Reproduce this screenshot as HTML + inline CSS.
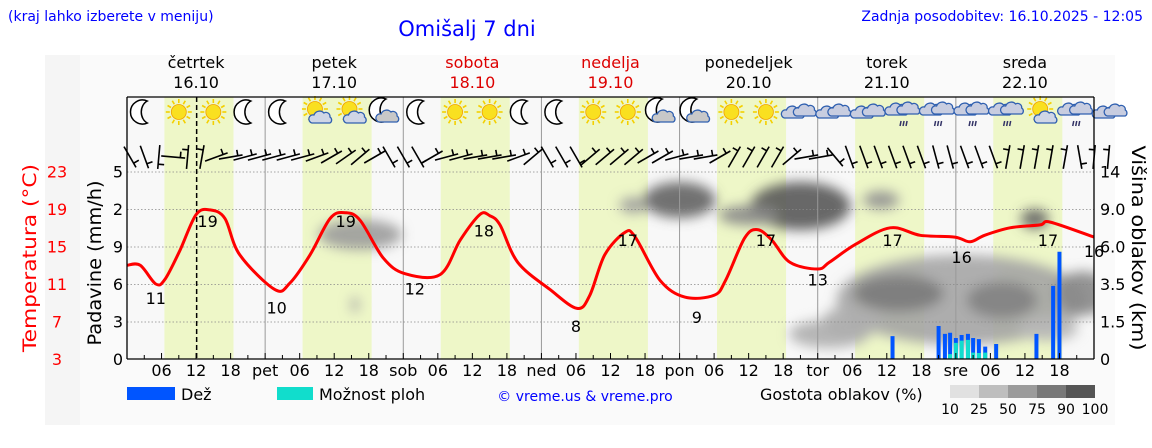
<!DOCTYPE html>
<html><head><meta charset="utf-8"><style>
body{margin:0;background:#fff;width:1152px;height:443px;overflow:hidden;font-family:"Liberation Sans","DejaVu Sans",sans-serif}
svg text{font-family:"DejaVu Sans","Liberation Sans",sans-serif}
</style></head><body>
<svg id="c" width="1152" height="443" viewBox="0 0 1152 443">
<defs><filter id="bl" x="-50%" y="-50%" width="200%" height="200%"><feGaussianBlur stdDeviation="6"/></filter>
<clipPath id="pc"><rect x="127" y="97" width="967" height="262"/></clipPath></defs>
<rect x="45" y="55" width="35" height="370" fill="#f5f5f5"/>
<rect x="80" y="55" width="1035" height="370" fill="#fafafa"/>
<rect x="127" y="97" width="967" height="262" fill="#f8f8f8"/>
<g id="bands"></g><g clip-path="url(#pc)"><g id="clouds" filter="url(#bl)"></g></g><g id="grid"></g><g id="bars"></g><g id="icons"></g><g id="wind"></g><g id="temp"></g><g id="axes"></g>
<text x="8" y="21" font-size="14" fill="#0000ff">(kraj lahko izberete v meniju)</text>
<text x="467" y="36" font-size="21" fill="#0000ff" text-anchor="middle">Omišalj 7 dni</text>
<text x="1143" y="21" font-size="14" fill="#0000ff" text-anchor="end">Zadnja posodobitev: 16.10.2025 - 12:05</text>
<text transform="translate(36,258) rotate(-90)" font-size="19" fill="#ff0000" text-anchor="middle" textLength="188" lengthAdjust="spacingAndGlyphs">Temperatura (°C)</text>
<text transform="translate(101,263) rotate(-90)" font-size="19" fill="#000" text-anchor="middle" textLength="165" lengthAdjust="spacingAndGlyphs">Padavine (mm/h)</text>
<text transform="translate(1132,248) rotate(90)" font-size="19" fill="#000" text-anchor="middle" textLength="205" lengthAdjust="spacingAndGlyphs">Višina oblakov (km)</text>
<g>
<rect x="127" y="387" width="48" height="13" fill="#0055ff"/>
<text x="181" y="400" font-size="16">Dež</text>
<rect x="277" y="387" width="36" height="13" fill="#11ddcc"/>
<text x="319" y="400" font-size="16">Možnost ploh</text>
<text x="585" y="401" font-size="14" fill="#0000ff" text-anchor="middle">© vreme.us &amp; vreme.pro</text>
<text x="760" y="400" font-size="16">Gostota oblakov (%)</text>
<g id="cscale"></g>
</g>
</svg>
<script>
const NS='http://www.w3.org/2000/svg';
const X0=127,X1=1094,YB=359,PXH=(X1-X0)/168;
const dayNames=['četrtek','petek','sobota','nedelja','ponedeljek','torek','sreda'];
const dayDates=['16.10','17.10','18.10','19.10','20.10','21.10','22.10'];
const dayColors=['#000','#000','#d00','#d00','#000','#000','#000'];
const dayAbbr=['','pet','sob','ned','pon','tor','sre'];
const tempHours=[0,2.3,5,6.6,9.2,12,14.4,17,19.6,25.7,28.3,31.8,35.3,37.9,40.5,44.5,48.3,54.4,57.9,61.3,63,64.8,67.9,73.5,78.2,80.4,83,86.5,88.3,92.6,96.9,102,104,107.3,109.5,112,115.2,120,122,126.5,132.6,137.8,143.8,146.5,149,153.4,158.6,160.4,168];
const tempVals=[13,13,11,11.5,14.6,18.4,18.9,18,14.1,10.4,11.1,14.1,18,18.6,17.8,13.8,12.1,12,15.7,18.4,18.3,17.3,13.3,10.4,8.4,9.8,14.1,16.5,16,11.4,9.6,9.8,11.4,15.9,16.8,15.7,13.3,12.6,13.3,15.2,17,16.2,16,15.5,16.2,17,17.3,17.6,16];
const tempLabelHours=[5,14,26,38,50,62,78,87,99,111,120,133,145,160,168];
const tempLabelVals=[11,19,10,19,12,18,8,17,9,17,13,17,16,17,16];
const rainHours=[133,141,142.1,143,144,145,146.1,147,148,149.1,151,158,160.9,162];
const rainVals=[0.61,0.88,0.67,0.70,0.56,0.64,0.67,0.56,0.53,0.33,0.4,0.67,1.95,2.86];
const stormVals=[0,0,0,0.13,0.43,0.49,0.51,0.17,0.16,0.17,0,0,0,0];
const iconTypes=['moon','sun','sun','moon','moon','suncloud','suncloud','mooncloud','moon','sun','sun','moon','moon','sun','sun','mooncloud','mooncloud','sun','sun','cloud','cloud','cloud','rain','rain','rain','rain','suncloud','rain','cloud'];
const windDirs=[60,70,95,5,-85,-80,-20,-10,-15,-15,-15,-15,-15,-20,-30,-35,-40,-30,60,60,60,-30,-15,-15,-10,-10,-10,-20,-40,60,60,60,-40,-40,-40,-40,-30,-30,-15,-10,-10,-30,-60,-60,-60,-60,-40,-10,-10,50,70,70,70,70,70,70,75,75,70,70,70,-80,-80,-80,-80,-80,80,-85,-85];
const cloudHour=[40.5,96,117,131,145,134,152,166,157.7,122,145,39.6,108,88,126,160];
const cloudKm=[6.95,10.2,9.4,10.2,2.65,3.0,2.65,3.0,8.2,1.0,4.5,2.4,8.5,9.5,1.5,1.2];
const cloudRx=[42,36,50,18,125,45,35,28,14,40,40,4,30,14,30,30];
const cloudRy=[15,18,24,9,45,18,18,22,10,14,14,8,10,8,16,12];
const cloudD=[45,75,80,50,40,62,58,55,75,35,35,40,55,45,35,30];
const scaleLabels=['10','25','50','75','90','100'];
const xs=h=>X0+h*PXH, ty=t=>YB-(t-3)*187.5/20, ry=v=>YB-v*37.5;
const hy=[0,1.5,3.5,6,9,14], ky=k=>{for(let i=1;i<hy.length;i++)if(k<=hy[i])return YB-(i-1+(k-hy[i-1])/(hy[i]-hy[i-1]))*37.5;return 172};
function mk(tag,a,p,txt){const e=document.createElementNS(NS,tag);for(const k in a)e.setAttribute(k,a[k]);if(txt!==undefined)e.textContent=txt;document.getElementById(p).appendChild(e);return e;}
for(let d=0;d<7;d++){
 const b=mk('rect',{x:xs(d*24+6.5),y:97,width:12*PXH,height:262,fill:'#eef7c8'},'bands');
 
 
 const t1=mk('text',{x:xs(d*24+12),y:68,'font-size':16,fill:dayColors[d],'text-anchor':'middle'},'axes',dayNames[d]);
 
 
 const t2=mk('text',{x:xs(d*24+12),y:88,'font-size':16,fill:dayColors[d],'text-anchor':'middle'},'axes',dayDates[d]);
 
 
}
const shade=d=>{const g=Math.round(240-d*1.9);return `rgb(${g},${g},${g})`;};
cloudHour.forEach((h,i)=>{
 const e=mk('ellipse',{cx:xs(h),cy:ky(cloudKm[i]),rx:cloudRx[i],ry:cloudRy[i],fill:shade(cloudD[i]),opacity:0.9},'clouds');
 
 
});
for(let i=0;i<5;i++){const l=mk('line',{x1:X0,x2:X1,y1:172+i*37.5,y2:172+i*37.5,stroke:'#888','stroke-dasharray':'1.5,2','stroke-width':0.8},'grid');
 
 }
for(let d=1;d<7;d++){const l=mk('line',{x1:xs(d*24),x2:xs(d*24),y1:97,y2:YB,stroke:'#999','stroke-width':1},'grid');
 
 }
const nowL=mk('line',{x1:xs(12.1),x2:xs(12.1),y1:97,y2:YB,stroke:'#000','stroke-dasharray':'5,3','stroke-width':1.5},'grid');


rainHours.forEach((h,i)=>{
 const r=mk('rect',{x:xs(h)-2,y:ry(rainVals[i]),width:4,height:YB-ry(rainVals[i]),fill:'#0055ff'},'bars');
 
 
 if(stormVals[i]>0){const s=mk('rect',{x:xs(h)-2,y:ry(stormVals[i]),width:4,height:YB-ry(stormVals[i]),fill:'#11ddcc'},'bars');
 
 }
});
function sun(g,cx,cy){for(let a=0;a<360;a+=30){const r=a*Math.PI/180;mk('line',{x1:cx+9*Math.cos(r),y1:cy+9*Math.sin(r),x2:cx+13*Math.cos(r),y2:cy+13*Math.sin(r),stroke:'#f4d000','stroke-width':1.6},g);}mk('circle',{cx,cy,r:7.5,fill:'#f9e020',stroke:'#f0a000','stroke-width':0.8},g);}
function moon(g,cx,cy){mk('path',{d:`M${cx+3} ${cy-11} A12 12 0 1 0 ${cx+3} ${cy+11} A10 12 0 0 1 ${cx+3} ${cy-11}Z`,fill:'#fff',stroke:'#000','stroke-width':1.5},g);}
function cloud(g,cx,cy,c){mk('path',{d:`M${cx-9} ${cy+5} a4 4 0 0 1 2-8 a6 6 0 0 1 10-2 a4 4 0 0 1 6 4 a3.5 3.5 0 0 1 0 6z`,fill:c,stroke:'#3060b0','stroke-width':1.3},g);}
iconTypes.forEach((t,i)=>{
 const cx=xs(3+i*6),cy=112;
 const g=mk('g',{id:'ic'+i},'icons');
 
 
 const id='ic'+i;
 if(t==='moon')moon(id,cx,cy);
 if(t==='sun')sun(id,cx,cy);
 if(t==='suncloud'){sun(id,cx-2,cy-3);cloud(id,cx+4,cy+6,'#cfd6e6');}
 if(t==='mooncloud'){moon(id,cx-3,cy-2);cloud(id,cx+2,cy+5,'#c8c8c8');}
 if(t==='cloud'){cloud(id,cx-7,cy+1,'#c8cde0');cloud(id,cx+5,cy-1,'#c8cde0');}
 if(t==='rain'){cloud(id,cx-7,cy-2,'#c8cde0');cloud(id,cx+5,cy-3,'#c8cde0');for(let k=-1;k<2;k++)mk('line',{x1:cx+3*k,y1:cy+9,x2:cx+3*k-1,y2:cy+14,stroke:'#336','stroke-width':1.5},id);}
});
windDirs.forEach((a,i)=>{
 const cx=xs(i*2.5)+3,cy=157;const r=a*Math.PI/180;
 const dx=12*Math.cos(r),dy=12*Math.sin(r);
 const g=mk('g',{},'wind');
 
 
 const l=document.createElementNS(NS,'line');
 [['x1',cx-dx],['y1',cy-dy],['x2',cx+dx],['y2',cy+dy],['stroke','#000'],['stroke-width',1.6]].forEach(p=>l.setAttribute(p[0],p[1]));g.appendChild(l);
 const t=document.createElementNS(NS,'line');
 [['x1',cx+dx*0.6],['y1',cy+dy*0.6],['x2',cx+dx*0.6+6*Math.sin(r)],['y2',cy+dy*0.6-6*Math.cos(r)],['stroke','#000'],['stroke-width',1.6]].forEach(p=>t.setAttribute(p[0],p[1]));g.appendChild(t);
});
// smooth temperature path (Catmull-Rom -> bezier)
const P=tempHours.map((h,i)=>[xs(h),ty(tempVals[i])]);
let d='M'+P[0][0].toFixed(1)+' '+P[0][1].toFixed(1);
for(let i=0;i<P.length-1;i++){const p0=P[Math.max(0,i-1)],p1=P[i],p2=P[i+1],p3=P[Math.min(P.length-1,i+2)];
 const c1=[p1[0]+(p2[0]-p0[0])/6,p1[1]+(p2[1]-p0[1])/6],c2=[p2[0]-(p3[0]-p1[0])/6,p2[1]-(p3[1]-p1[1])/6];
 d+=`C${c1[0].toFixed(1)} ${c1[1].toFixed(1)} ${c2[0].toFixed(1)} ${c2[1].toFixed(1)} ${p2[0].toFixed(1)} ${p2[1].toFixed(1)}`;}
const tp=mk('path',{d,fill:'none',stroke:'#ff0000','stroke-width':3,'stroke-linejoin':'round'},'temp');


tempLabelHours.forEach((h,i)=>{
 const y=ty(tempLabelVals[i])+(i===12?26:(i%2?18:20));
 const t=mk('text',{x:xs(h),y,'font-size':16,'text-anchor':'middle',fill:'#000'},'temp',tempLabelVals[i]);
 
 
});
const ax=[['line',{x1:X0,x2:X0,y1:97,y2:YB}],['line',{x1:X0,x2:X1,y1:YB,y2:YB}],['line',{x1:X1,x2:X1,y1:97,y2:YB}],['line',{x1:X0,x2:X1,y1:97,y2:97}]];
ax.forEach(a=>{const e=mk(a[0],Object.assign(a[1],{stroke:'#000','stroke-width':1.3}),'axes');
 
 });
for(let h=0;h<=168;h+=3){const e=mk('line',{x1:xs(h),x2:xs(h),y1:YB,y2:YB-(h%6?4:6),stroke:'#000'},'axes');
 
 }
for(let dd=0;dd<7;dd++){[6,12,18].forEach(h=>{const t=mk('text',{x:xs(dd*24+h),y:376,'font-size':16,'text-anchor':'middle'},'axes',String(h).padStart(2,'0'));
 
 });
 if(dd){const t=mk('text',{x:xs(dd*24),y:376,'font-size':16,'text-anchor':'middle'},'axes',dayAbbr[dd]);
 
 }}
const tl=['3','7','11','15','19','23'],pl=['0','3','6','9','2','5'],hl=['0','1.5','3.5','6.0','9.0','14'];
for(let i=0;i<6;i++){const y=YB-i*37.5+6;
 const a=mk('text',{x:57,y,'font-size':16,fill:'#ff0000','text-anchor':'middle'},'axes',tl[i]);
 
 
 const b=mk('text',{x:118,y,'font-size':16,'text-anchor':'middle'},'axes',pl[i]);
 
 
 const c=mk('text',{x:1100,y,'font-size':16},'axes',hl[i]);
 
 }
scaleLabels.forEach((s,i)=>{
 if(i<5){const g=Math.round(225-i*35);const r=mk('rect',{x:950+i*29,y:385,width:29,height:13,fill:`rgb(${g},${g},${g})`},'cscale');
 
 }
 const t=mk('text',{x:950+i*29,y:414,'font-size':14,'text-anchor':'middle'},'cscale',s);
 
 
});
</script>
</body></html>
